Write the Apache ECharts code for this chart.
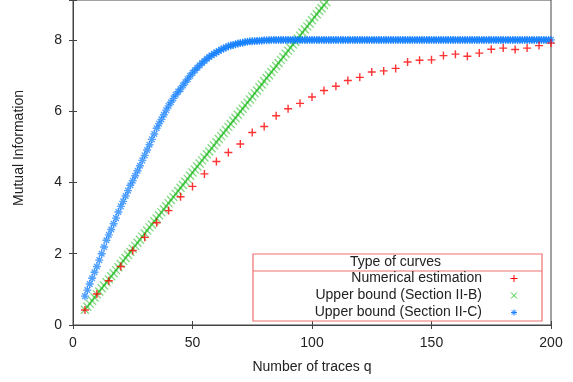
<!DOCTYPE html>
<html>
<head>
<meta charset="utf-8">
<script src="https://cdn.jsdelivr.net/npm/echarts@6/dist/echarts.min.js"></script>
<style>
  html, body { margin: 0; padding: 0; background: #fff; }
  #chart { width: 573px; height: 382px; }
</style>
</head>
<body>
<div id="chart"></div>
<script>
// 数值估计 (红色 +)，q = 5, 10, ..., 200
const redQ = [5, 10, 15, 20, 25, 30, 35, 40, 45, 50, 55, 60, 65, 70, 75, 80, 85, 90, 95, 100,
  105, 110, 115, 120, 125, 130, 135, 140, 145, 150, 155, 160, 165, 170, 175, 180, 185, 190, 195, 200]
const redMI = [0.42, 0.87, 1.24, 1.64, 2.09, 2.46, 2.87, 3.21, 3.60, 3.89,
  4.24, 4.59, 4.84, 5.08, 5.40, 5.57, 5.87, 6.07, 6.22, 6.40,
  6.58, 6.70, 6.86, 6.95, 7.10, 7.13, 7.20, 7.38, 7.43, 7.44,
  7.56, 7.60, 7.54, 7.63, 7.74, 7.77, 7.73, 7.77, 7.84, 7.91]

// 上界 Section II-B (绿色 x)，q 从 5 开始每次 +1
const greenStartQ = 5
const greenMI = [0.43, 0.51, 0.60, 0.68, 0.77, 0.86, 0.94, 1.03, 1.11, 1.20,
  1.28, 1.37, 1.45, 1.54, 1.62, 1.71, 1.80, 1.88, 1.97, 2.05,
  2.14, 2.22, 2.31, 2.39, 2.48, 2.57, 2.65, 2.74, 2.82, 2.91,
  2.99, 3.08, 3.16, 3.25, 3.33, 3.42, 3.51, 3.59, 3.68, 3.76,
  3.85, 3.93, 4.02, 4.10, 4.19, 4.28, 4.36, 4.45, 4.53, 4.62,
  4.70, 4.79, 4.87, 4.96, 5.04, 5.13, 5.22, 5.30, 5.39, 5.47,
  5.56, 5.64, 5.73, 5.81, 5.90, 5.99, 6.07, 6.16, 6.24, 6.33,
  6.41, 6.50, 6.58, 6.67, 6.75, 6.84, 6.93, 7.01, 7.10, 7.18,
  7.27, 7.35, 7.44, 7.52, 7.61, 7.70, 7.78, 7.87, 7.95, 8.04,
  8.12, 8.21, 8.29, 8.38, 8.46, 8.55, 8.64, 8.72, 8.81, 8.89,
  8.98, 9.06, 9.15]

// 上界 Section II-C (蓝色 *)，q 从 5 开始每次 +1 到 200
const blueStartQ = 5
const blueMI = [0.81, 0.98, 1.15, 1.31, 1.48, 1.64, 1.82, 2.00, 2.19, 2.38,
  2.53, 2.68, 2.84, 3.00, 3.17, 3.33, 3.47, 3.62, 3.77, 3.92,
  4.05, 4.19, 4.33, 4.47, 4.62, 4.76, 4.91, 5.06, 5.21, 5.36,
  5.52, 5.65, 5.77, 5.90, 6.03, 6.15, 6.25, 6.36, 6.46, 6.55,
  6.62, 6.72, 6.81, 6.90, 6.99, 7.07, 7.15, 7.22, 7.29, 7.35,
  7.41, 7.47, 7.52, 7.57, 7.61, 7.65, 7.69, 7.73, 7.76, 7.79,
  7.82, 7.84, 7.86, 7.88, 7.90, 7.91, 7.92, 7.94, 7.95, 7.96,
  7.96, 7.97, 7.97, 7.98, 7.98, 7.99, 7.99, 7.99, 8.00,
  8, 8, 8, 8, 8, 8, 8, 8, 8, 8, 8, 8, 8, 8, 8, 8, 8, 8, 8, 8,
  8, 8, 8, 8, 8, 8, 8, 8, 8, 8, 8, 8, 8, 8, 8, 8, 8, 8, 8, 8,
  8, 8, 8, 8, 8, 8, 8, 8, 8, 8, 8, 8, 8, 8, 8, 8, 8, 8, 8, 8,
  8, 8, 8, 8, 8, 8, 8, 8, 8, 8, 8, 8, 8, 8, 8, 8, 8, 8, 8, 8,
  8, 8, 8, 8, 8, 8, 8, 8, 8, 8, 8, 8, 8, 8, 8, 8, 8, 8, 8, 8,
  8, 8, 8, 8, 8, 8, 8, 8, 8, 8, 8, 8, 8, 8, 8, 8, 8]

const seriesNames = ['Numerical estimation', 'Upper bound (Section II-B)', 'Upper bound (Section II-C)']
const xTicks = [0, 50, 100, 150, 200]
const yTicks = [0, 2, 4, 6, 8]

const FONT = 'Liberation Sans'
const TEXT = '#222'
const PLUS = 'path://M0,5L10,5M5,0L5,10'
const CROSS = 'path://M0,0L10,10M0,10L10,0'
const STAR = 'path://M0,5L10,5M5,0L5,10M1.5,1.5L8.5,8.5M1.5,8.5L8.5,1.5'

const redData = redQ.map((q, i) => [q, redMI[i]])
const greenData = greenMI.map((v, i) => [greenStartQ + i, v])
const blueData = blueMI.map((v, i) => [blueStartQ + i, v])

const chart = echarts.init(document.getElementById('chart'))

// 图例：gnuplot 风格，文字右对齐，符号在右侧
const legendBox = { x: 253, y: 254, w: 289, h: 67, head: 17, textRight: 482, iconX: 514, row: 17 }
const legendIcons = [
  { symbol: [[-3.5, 0, 3.5, 0], [0, -3.5, 0, 3.5]], color: '#ff0000' },
  { symbol: [[-3, -3, 3, 3], [-3, 3, 3, -3]], color: '#33cc33' },
  { symbol: [[-3, 0, 3, 0], [0, -3, 0, 3], [-2.2, -2.2, 2.2, 2.2], [-2.2, 2.2, 2.2, -2.2]], color: '#1a80ff' }
]
const legendGraphics = [
  {
    type: 'rect',
    shape: { x: legendBox.x, y: legendBox.y, width: legendBox.w, height: legendBox.h },
    style: { fill: 'none', stroke: '#f07070', lineWidth: 1.2 },
    z: 100
  },
  {
    type: 'line',
    shape: { x1: legendBox.x, y1: legendBox.y + legendBox.head, x2: legendBox.x + legendBox.w, y2: legendBox.y + legendBox.head },
    style: { stroke: '#f07070', lineWidth: 1.2 },
    z: 100
  },
  {
    type: 'text',
    x: legendBox.x + legendBox.w / 2 - 2,
    y: legendBox.y + legendBox.head / 2,
    style: { text: 'Type of curves', font: '14px ' + FONT, fill: TEXT, textAlign: 'center', textVerticalAlign: 'middle' },
    z: 100
  }
]
seriesNames.forEach((name, i) => {
  const cy = legendBox.y + legendBox.head + 7.5 + i * legendBox.row
  legendGraphics.push({
    type: 'text',
    x: legendBox.textRight,
    y: cy,
    style: { text: name, font: '14px ' + FONT, fill: TEXT, textAlign: 'right', textVerticalAlign: 'middle' },
    z: 100
  })
  legendIcons[i].symbol.forEach((s) => {
    legendGraphics.push({
      type: 'line',
      shape: { x1: legendBox.iconX + s[0], y1: cy + s[1], x2: legendBox.iconX + s[2], y2: cy + s[3] },
      style: { stroke: legendIcons[i].color, lineWidth: 1 },
      z: 100
    })
  })
})

const tickOnly = {
  axisLine: { show: true, lineStyle: { color: '#444' } },
  axisTick: { show: true, inside: true, length: 4, lineStyle: { color: '#444' } },
  axisLabel: { show: false },
  splitLine: { show: false }
}

const option = {
  animation: false,
  backgroundColor: '#fff',
  grid: { left: 73, right: 22, top: 0, bottom: 57, show: true, borderColor: '#444', borderWidth: 1 },
  xAxis: [
    {
      type: 'value',
      min: 0,
      max: 200,
      interval: 50,
      name: 'Number of traces q',
      nameLocation: 'middle',
      nameGap: 35,
      nameTextStyle: { fontFamily: FONT, fontSize: 14, color: TEXT },
      axisLine: { show: true, lineStyle: { color: '#444' } },
      axisTick: { show: true, inside: true, length: 4, lineStyle: { color: '#444' } },
      axisLabel: {
        margin: 11,
        fontFamily: FONT,
        fontSize: 14,
        color: TEXT,
        formatter: (v) => (xTicks.indexOf(v) >= 0 ? String(v) : '')
      },
      splitLine: { show: false }
    },
    Object.assign({ type: 'value', min: 0, max: 200, interval: 50, position: 'top' }, tickOnly)
  ],
  yAxis: [
    {
      type: 'value',
      min: 0,
      max: 9.12,
      interval: 2,
      axisLine: { show: true, lineStyle: { color: '#444' } },
      axisTick: { show: true, inside: true, length: 4, lineStyle: { color: '#444' } },
      axisLabel: {
        margin: 11,
        fontFamily: FONT,
        fontSize: 14,
        color: TEXT,
        formatter: (v) => (yTicks.indexOf(v) >= 0 ? String(v) : '')
      },
      splitLine: { show: false }
    },
    Object.assign({ type: 'value', min: 0, max: 9.12, interval: 2, position: 'right' }, tickOnly)
  ],
  graphic: [
    {
      type: 'text',
      x: 19,
      y: 148,
      rotation: Math.PI / 2,
      style: { text: 'Mutual Information', font: '14px ' + FONT, fill: TEXT, textAlign: 'center', textVerticalAlign: 'middle' }
    }
  ].concat(legendGraphics),
  series: [
    {
      name: seriesNames[1],
      type: 'scatter',
      data: greenData,
      symbol: CROSS,
      symbolSize: 8,
      clip: true,
      itemStyle: { color: 'none', borderColor: '#00b400', borderWidth: 1.3, opacity: 0.5 },
      z: 2
    },
    {
      name: seriesNames[2],
      type: 'scatter',
      data: blueData,
      symbol: STAR,
      symbolSize: 8,
      clip: true,
      itemStyle: { color: 'none', borderColor: '#0a7aff', borderWidth: 1.4, opacity: 0.7 },
      z: 3
    },
    {
      name: seriesNames[0],
      type: 'scatter',
      data: redData,
      symbol: PLUS,
      symbolSize: 8,
      clip: true,
      itemStyle: { color: 'none', borderColor: '#ff0000', borderWidth: 1.4 },
      z: 4
    }
  ]
}

chart.setOption(option)
</script>
</body>
</html>
